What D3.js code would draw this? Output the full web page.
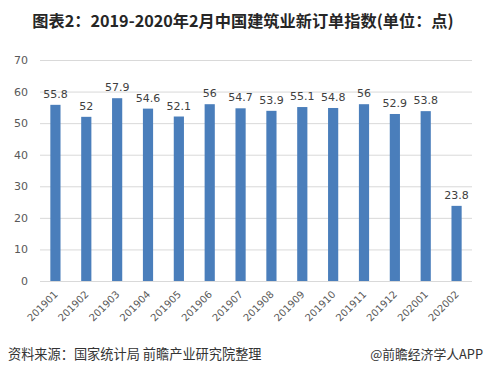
<!DOCTYPE html>
<html>
<head>
<meta charset="utf-8">
<script src="https://cdn.jsdelivr.net/npm/d3@7"></script>
<style>
  body { margin: 0; background: #fff; }
  svg { font-family: "Noto Sans CJK SC", "DejaVu Sans", sans-serif; }
</style>
</head>
<body>
<div id="chart"></div>
<script>
const months = ["201901","201902","201903","201904","201905","201906","201907",
                "201908","201909","201910","201911","201912","202001","202002"];
const values = [55.8, 52, 57.9, 54.6, 52.1, 56, 54.7, 53.9, 55.1, 54.8, 56, 52.9, 53.8, 23.8];
const yTicks = [0, 10, 20, 30, 40, 50, 60, 70];

const width = 487, height = 375;
const margin = {top: 60, right: 15, bottom: 94, left: 40};

const svg = d3.select("#chart").append("svg")
    .attr("width", width).attr("height", height);

const x = d3.scaleBand()
    .domain(months)
    .range([margin.left, width - margin.right])
    .paddingInner(0.67).paddingOuter(0.335);

const y = d3.scaleLinear()
    .domain([0, 70])
    .range([height - margin.bottom, margin.top]);

// title
svg.append("text")
    .attr("x", 243).attr("y", 27)
    .attr("text-anchor", "middle")
    .attr("font-size", 16.2).attr("font-weight", "bold")
    .attr("fill", "#262626")
    .text("图表2：2019-2020年2月中国建筑业新订单指数(单位：点)");

// grid
svg.append("g")
    .selectAll("line").data(yTicks).join("line")
    .attr("x1", margin.left).attr("x2", width - margin.right)
    .attr("y1", d => y(d) + 0.5).attr("y2", d => y(d) + 0.5)
    .attr("stroke", "#d9d9d9");

// y axis labels
svg.append("g")
    .call(d3.axisLeft(y).tickValues(yTicks).tickSize(0).tickPadding(12))
    .attr("transform", `translate(${margin.left},0)`)
    .call(g => g.select(".domain").remove())
    .call(g => g.selectAll("text").attr("font-size", 11).attr("fill", "#595959")
        .attr("font-family", "'DejaVu Sans', sans-serif"));

// bars
svg.append("g")
    .selectAll("rect").data(values).join("rect")
    .attr("x", (d, i) => x(months[i]))
    .attr("width", x.bandwidth())
    .attr("y", d => y(d))
    .attr("height", d => y(0) - y(d))
    .attr("fill", "#4a7ebb");

// value labels
svg.append("g")
    .selectAll("text").data(values).join("text")
    .attr("x", (d, i) => x(months[i]) + x.bandwidth() / 2)
    .attr("y", d => y(d) - 7)
    .attr("text-anchor", "middle")
    .attr("font-size", 11)
    .attr("font-family", "'DejaVu Sans', sans-serif")
    .attr("fill", "#404040")
    .text(d => d);

// x axis labels
const gx = svg.append("g")
    .attr("transform", `translate(0,${y(0)})`)
    .call(d3.axisBottom(x).tickSize(0).tickPadding(0))
    .call(g => g.select(".domain").remove());
gx.selectAll(".tick text")
    .attr("font-size", 10)
    .attr("font-family", "'DejaVu Sans', sans-serif")
    .attr("fill", "#595959")
    .attr("text-anchor", "end")
    .attr("dy", 0)
    .attr("transform", "translate(3,14) rotate(-45)");

// footer
svg.append("text")
    .attr("x", 8).attr("y", 359)
    .attr("font-size", 13.2).attr("fill", "#333")
    .text("资料来源：国家统计局 前瞻产业研究院整理");
svg.append("text")
    .attr("x", 483).attr("y", 359)
    .attr("text-anchor", "end")
    .attr("font-size", 12.8).attr("fill", "#333")
    .text("@前瞻经济学人APP");
</script>
</body>
</html>
